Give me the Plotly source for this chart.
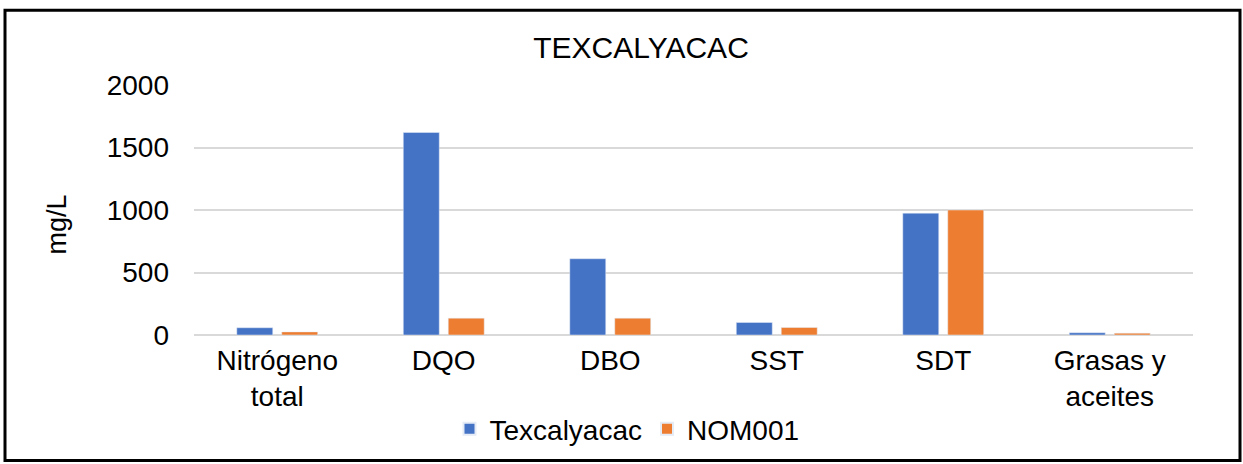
import plotly.graph_objects as go

categories = ["Nitrógeno<br>total", "DQO", "DBO", "SST", "SDT", "Grasas y<br>aceites"]
texcalyacac = [58, 1620, 610, 100, 975, 18]
nom001 = [25, 135, 135, 60, 1000, 15]
y_ticks = [0, 500, 1000, 1500, 2000]

BLUE = "#4472C4"
ORANGE = "#ED7D31"
FONT = "Liberation Sans, Arial, sans-serif"

fig = go.Figure()
fig.add_trace(go.Bar(name="Texcalyacac", x=categories, y=texcalyacac, marker_color=BLUE))
fig.add_trace(go.Bar(name="NOM001", x=categories, y=nom001, marker_color=ORANGE))

L, R, T, B = 194, 50, 85, 128
W, H = 1243, 464
pw, ph = W - L - R, H - T - B

def px_x(p):
    return (p - L) / pw

def px_y(p):
    return (H - B - p) / ph

fig.update_layout(
    width=W, height=H,
    margin=dict(l=L, r=R, t=T, b=B),
    paper_bgcolor="white", plot_bgcolor="white",
    font=dict(family=FONT, size=28, color="#000000"),
    barmode="group", bargap=0.46, bargroupgap=0.2,
    title=dict(text="TEXCALYACAC", x=641 / W, xref="container", xanchor="center",
               y=1 - 47 / H, yref="container", yanchor="middle",
               font=dict(size=30, family=FONT, color="#000000")),
    showlegend=True,
    legend=dict(orientation="h", x=px_x(627), xanchor="center", y=px_y(429), yanchor="middle",
                font=dict(size=28, family=FONT, color="#000000"),
                itemsizing="constant", traceorder="normal", bgcolor="rgba(0,0,0,0)"),
    xaxis=dict(showgrid=False, showline=False, ticks="", tickfont=dict(size=28),
               ticklabelstandoff=6),
    yaxis=dict(range=[0, 2000], tickvals=y_ticks, showgrid=True, gridcolor="#D9D9D9",
               gridwidth=2, zeroline=True, zerolinecolor="#D9D9D9", zerolinewidth=2,
               showline=False, ticks="", tickfont=dict(size=28), ticklabelstandoff=24),
    shapes=[dict(type="rect", xref="paper", yref="paper",
                 x0=px_x(5), x1=px_x(1240), y0=px_y(462), y1=px_y(10),
                 line=dict(color="black", width=3), fillcolor="rgba(0,0,0,0)", layer="above")],
    annotations=[dict(text="mg/L", textangle=-90, xref="paper", yref="paper",
                      x=px_x(57), y=px_y(225), xanchor="center", yanchor="middle",
                      showarrow=False, font=dict(size=27, family=FONT, color="#000000"))],
)

fig.write_html("out.html", config={"displayModeBar": False})

# remove the default page margin so the figure starts at the window's top-left corner
with open("out.html", encoding="utf-8") as f:
    html = f.read()
html = html.replace("<body>", '<body style="margin:0;padding:0;overflow:hidden">', 1)
with open("out.html", "w", encoding="utf-8") as f:
    f.write(html)
